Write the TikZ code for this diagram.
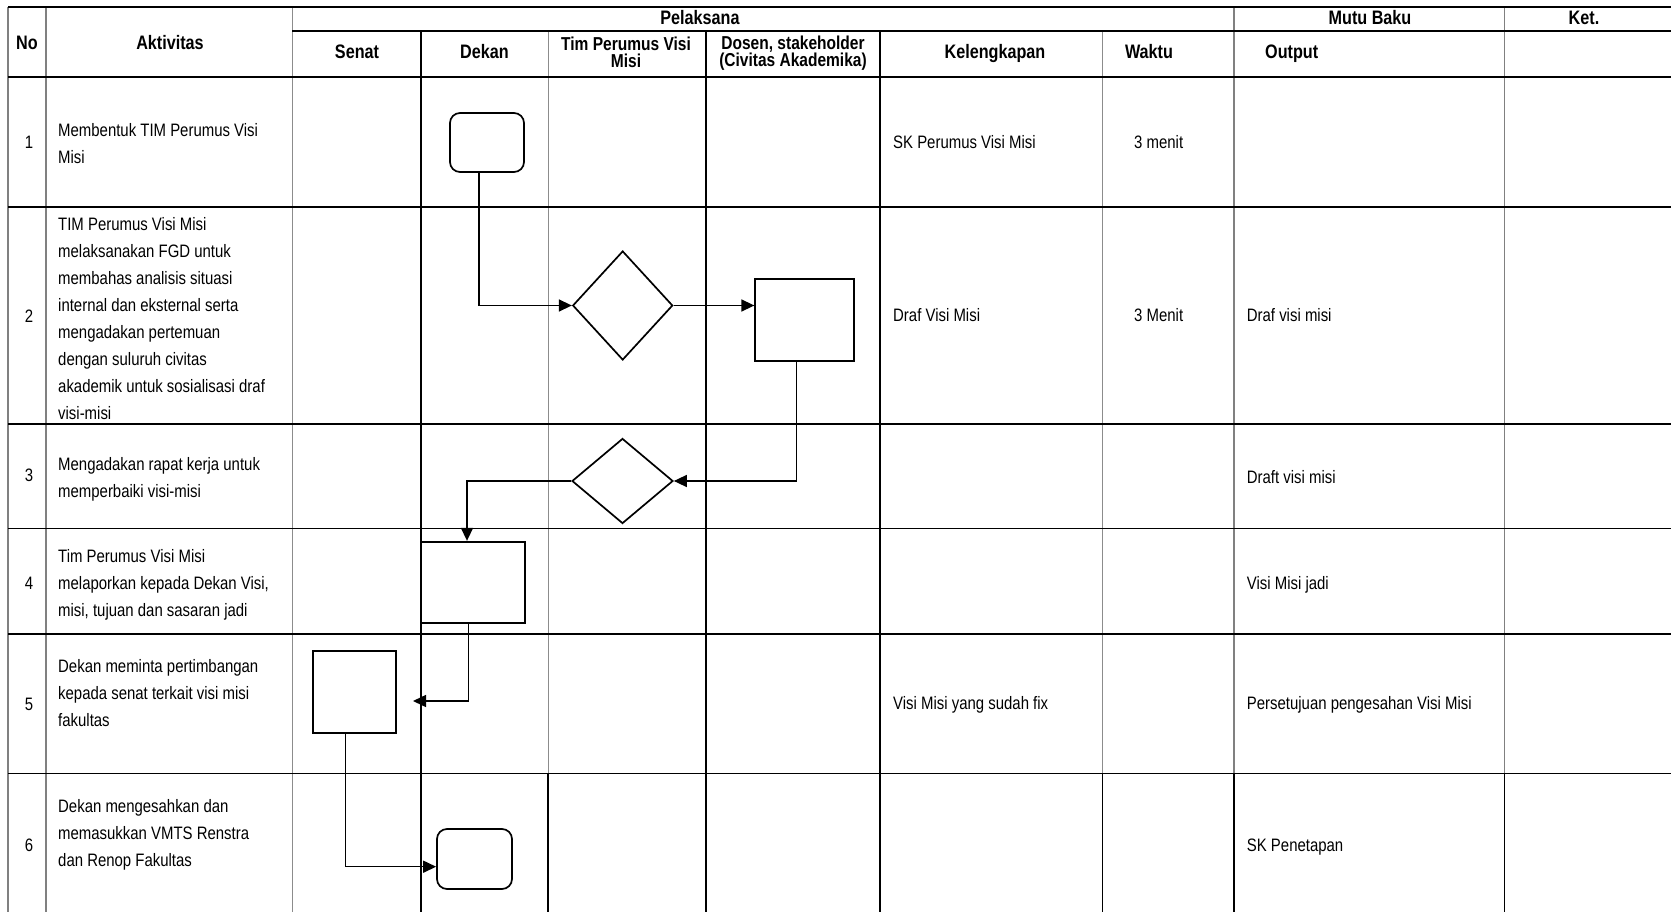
\documentclass[tikz,border=0pt]{standalone}
\usepackage{fontspec}
\setmainfont{Liberation Sans}[FakeStretch=0.83]
\usetikzlibrary{arrows.meta,shapes.geometric,calc}
\tikzset{
  body/.style={font=\fontsize{18}{27}\selectfont, inner sep=0pt},
  one/.style={body, text height=12.9pt, text depth=0pt},
  hdr/.style={font=\bfseries\fontsize{19.5}{17}\selectfont, inner sep=0pt, align=center},
  hdrtwo/.style={hdr, font=\bfseries\fontsize{18.7}{17}\selectfont},
  hdrone/.style={hdr, text height=14pt, text depth=0pt},
  hthick/.style={line width=2pt, black},
  hthin/.style={line width=1.1pt, black},
  vblack/.style={line width=1.2pt, black},
  vbold/.style={line width=2pt, black},
  vgray/.style={line width=1pt, black!45},
  vgraythick/.style={line width=1.7pt, black!50},
  shp/.style={draw, line width=1.7pt, fill=white, inner sep=0pt},
  term/.style={shp, rectangle, rounded corners=10pt},
  proc/.style={shp, rectangle},
  dec/.style={shp, diamond},
  arr/.style={draw, line width=1.5pt, -{Triangle[length=13pt,width=12pt]}},
}
\begin{document}
\begin{tikzpicture}[x=1pt,y=-1pt]
\useasboundingbox (0,0) rectangle (1671,912);
\fill[white] (0,0) rectangle (1671,912);

% vertical grid lines
\draw[vgraythick] (8,7.5) -- (8,912);
\draw[vgraythick] (45.7,7.5) -- (45.7,912);
\draw[vgray] (292,7.5) -- (292,912);
\draw[vblack] (421,31) -- (421,773.3);
\draw[vbold] (421,773.3) -- (421,912);
\draw[vgray] (548,31) -- (548,773.3);
\draw[vblack] (548,773.3) -- (548,912);
\draw[vblack] (706,31) -- (706,773.3);
\draw[vbold] (706,773.3) -- (706,912);
\draw[line width=1.5pt] (880,31) -- (880,773.3);
\draw[vbold] (880,773.3) -- (880,912);
\draw[vgray] (1102.5,31) -- (1102.5,773.3);
\draw[vblack] (1102.5,773.3) -- (1102.5,912);
\draw[vgraythick] (1234,7.5) -- (1234,773.3);
\draw[vblack] (1234,773.3) -- (1234,912);
\draw[vgraythick] (1504.5,7.5) -- (1504.5,773.3);
\draw[vblack] (1504.5,773.3) -- (1504.5,912);

% horizontal grid lines
\draw[hthick] (8,7.5) -- (1671,7.5);
\draw[hthick] (292,31) -- (1671,31);
\draw[hthick] (8,77) -- (1671,77);
\draw[hthick] (8,206.7) -- (1671,206.7);
\draw[hthick] (8,423.5) -- (1671,423.5);
\draw[hthin] (8,528.5) -- (1671,528.5);
\draw[hthin] (8,634) -- (1671,634);
\draw[hthin] (8,773.3) -- (1671,773.3);

% header texts
\node[hdrone] (hNo) at (27,42.7) {No};
\node[hdrone] (hAkt) at (170,42.7) {Aktivitas};
\node[hdrone] (hPel) at (700,18) {Pelaksana};
\node[hdrone] (hMutu) at (1370,18) {Mutu Baku};
\node[hdrone] (hKet) at (1584,18) {Ket.};
\node[hdrone] (hSenat) at (357,52) {Senat};
\node[hdrone] (hDekan) at (484.5,52) {Dekan};
\node[hdrtwo] (hTim) at (626,52.5) {Tim Perumus Visi\\Misi};
\node[hdrtwo] (hDosen) at (793,53) {Dosen, stakeholder\\(Civitas Akademika)};
\node[hdrone] (hKel) at (995,52) {Kelengkapan};
\node[hdrone] (hWak) at (1149,52) {Waktu};
\node[hdrone, anchor=west] (hOut) at (1265,52) {Output};

% numbers
\node[one] (n1) at (29,141.7) {1};
\node[one] (n2) at (29,316) {2};
\node[one] (n3) at (29,475) {3};
\node[one] (n4) at (29,582.7) {4};
\node[one] (n5) at (29,704) {5};
\node[one] (n6) at (29,845) {6};

% activities
\node[body, anchor=west, align=left] (a1) at (58,143.7) {Membentuk TIM Perumus Visi\\Misi};
\node[body, anchor=west, align=left] (a2) at (58,318.7) {TIM Perumus Visi Misi\\melaksanakan FGD untuk\\membahas analisis situasi\\internal dan eksternal serta\\mengadakan pertemuan\\dengan suluruh civitas\\akademik untuk sosialisasi draf\\visi-misi};
\node[body, anchor=west, align=left] (a3) at (58,479.7) {Mengadakan rapat kerja untuk\\memperbaiki visi-misi};
\node[body, anchor=west, align=left] (a4) at (58,585) {Tim Perumus Visi Misi\\melaporkan kepada Dekan Visi,\\misi, tujuan dan sasaran jadi};
\node[body, anchor=west, align=left] (a5) at (58,693.5) {Dekan meminta pertimbangan\\kepada senat terkait visi misi\\fakultas};
\node[body, anchor=west, align=left] (a6) at (58,834.7) {Dekan mengesahkan dan\\memasukkan VMTS Renstra\\dan Renop Fakultas};

% kelengkapan
\node[one, anchor=west] (k1) at (893,141.7) {SK Perumus Visi Misi};
\node[one, anchor=west] (k2) at (893,315) {Draf Visi Misi};
\node[one, anchor=west] (k5) at (893,703.3) {Visi Misi yang sudah fix};

% waktu
\node[one] (w1) at (1158.7,141.7) {3 menit};
\node[one] (w2) at (1158.7,315) {3 Menit};

% output
\node[one, anchor=west] (o2) at (1246.7,315) {Draf visi misi};
\node[one, anchor=west] (o3) at (1246.7,477.3) {Draft visi misi};
\node[one, anchor=west] (o4) at (1246.7,583.3) {Visi Misi jadi};
\node[one, anchor=west] (o5) at (1246.7,703.3) {Persetujuan pengesahan Visi Misi};
\node[one, anchor=west] (o6) at (1246.7,845) {SK Penetapan};

% flow shapes
\node[term, minimum width=74pt, minimum height=59pt] (s1) at (487,142.5) {};
\node[dec, minimum width=100pt, minimum height=109pt, aspect=0.92] (d1) at (622.7,305.5) {};
\node[proc, minimum width=99pt, minimum height=82pt] (r2) at (804.7,320) {};
\node[dec, minimum width=101pt, minimum height=85pt, aspect=1.19] (d2) at (622.5,481) {};
\node[proc, minimum width=104pt, minimum height=81pt] (r4) at (473,582.2) {};
\node[proc, minimum width=83pt, minimum height=82pt] (r5) at (354.7,692) {};
\node[term, minimum width=75pt, minimum height=60pt] (s6) at (474.5,859) {};
\coordinate (t5) at (413,701);

% connectors
\draw[arr] ([xshift=-8pt]s1.south) |- (d1.west);
\draw[arr] (d1.east) -- (d1.east -| r2.west);
\draw[arr] ([xshift=-8pt]r2.south) |- (d2.east);
\draw[arr] (d2.west) -| ([xshift=-6pt]r4.north);
\draw[arr] ([xshift=-4.5pt]r4.south) |- (t5);
\draw[arr] ([xshift=-9pt]r5.south) |- ([yshift=-7.7pt]s6.west);
\end{tikzpicture}
\end{document}
